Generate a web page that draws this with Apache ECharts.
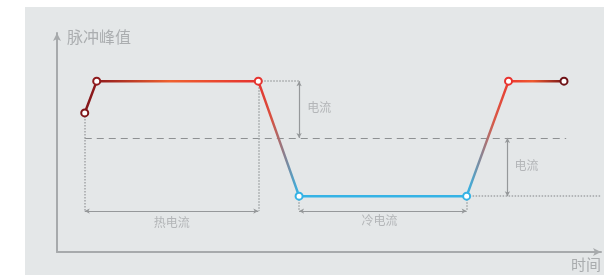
<!DOCTYPE html>
<html>
<head>
<meta charset="utf-8">
<script src="https://cdn.jsdelivr.net/npm/echarts@6/dist/echarts.min.js"></script>
<style>
  html, body { margin: 0; padding: 0; background: #ffffff; }
  #panel { position: absolute; left: 25px; top: 7px; width: 579px; height: 268px; background: #e4e7e8; }
  #chart { position: absolute; left: 0; top: 0; width: 604px; height: 275px; }
</style>
</head>
<body>
<div id="panel"></div>
<div id="chart"></div>
<script>
// pulse waveform: time (0-100) vs peak (0-10)
const times = [5.1, 7.3, 37, 44.5, 75.3, 83, 93.2];
const peaks = [6.35, 7.8, 7.8, 2.55, 2.55, 7.8, 7.8];
const pointColors = ['#7f1518', '#8e1a1c', '#e5332f', '#35b3e5', '#35b3e5', '#e8322e', '#6e1216'];

const dashedGuides = [
  [[5.1, 5.21], [93.6, 5.21]]
];
const dottedGuides = [
  [[5.1, 6.35], [5.1, 1.87]],
  [[37, 7.8], [37, 1.87]],
  [[37, 7.8], [44.5, 7.8]],
  [[44.5, 2.55], [44.5, 1.87]],
  [[75.3, 2.55], [75.3, 1.87]],
  [[75.3, 2.55], [100, 2.55]]
];
const arrowGuides = [
  [[5.1, 1.87], [37, 1.87]],
  [[44.5, 1.87], [75.3, 1.87]],
  [[44.5, 7.8], [44.5, 5.21]],
  [[82.8, 5.21], [82.8, 2.55]]
];
const noteNames = ['热电流', '冷电流', '电流', '电流'];
const notePos = [[21.1, 1.37], [59.3, 1.42], [48.2, 6.62], [86.3, 3.93]];

const font = '"Noto Sans CJK SC", "Noto Sans", sans-serif';
const toPairs = list => list.map(seg => [{ coord: seg[0] }, { coord: seg[1] }]);

const myChart = echarts.init(document.getElementById('chart'));
const option = {
  animation: false,
  grid: { left: 57, top: 33, right: 1, bottom: 23 },
  xAxis: {
    type: 'value',
    min: 0,
    max: 100,
    name: '时间',
    nameLocation: 'end',
    nameGap: 0,
    nameTextStyle: {
      color: '#a9acae', fontSize: 15, fontFamily: font,
      align: 'right', verticalAlign: 'top', padding: [5, 0, 0, 0]
    },
    axisLine: {
      show: true,
      symbol: ['none', 'arrow'],
      symbolSize: [6, 8],
      lineStyle: { color: '#a7aaac', width: 2 }
    },
    axisTick: { show: false },
    axisLabel: { show: false },
    splitLine: { show: false }
  },
  yAxis: {
    type: 'value',
    min: 0,
    max: 10,
    name: '脉冲峰值',
    nameLocation: 'end',
    nameGap: -4,
    nameTextStyle: {
      color: '#abaeb0', fontSize: 16, fontFamily: font,
      align: 'left', verticalAlign: 'middle', padding: [0, 0, 0, 10]
    },
    axisLine: {
      show: true,
      symbol: ['none', 'arrow'],
      symbolSize: [6, 8],
      lineStyle: { color: '#a7aaac', width: 2 }
    },
    axisTick: { show: false },
    axisLabel: { show: false },
    splitLine: { show: false }
  },
  series: [
    {
      type: 'line',
      data: [],
      silent: true,
      markLine: {
        silent: true,
        symbol: 'none',
        label: { show: false },
        lineStyle: { color: '#8e9193', width: 1.2, type: [7, 5] },
        data: toPairs(dashedGuides)
      }
    },
    {
      type: 'line',
      data: [],
      silent: true,
      markLine: {
        silent: true,
        symbol: 'none',
        label: { show: false },
        lineStyle: { color: '#a2a5a7', width: 1.5, type: 'dotted' },
        data: toPairs(dottedGuides)
      }
    },
    {
      type: 'line',
      data: [],
      silent: true,
      markLine: {
        silent: true,
        symbol: ['arrow', 'arrow'],
        symbolSize: [4, 5],
        label: { show: false },
        lineStyle: { color: '#95989a', width: 1.2, type: 'solid' },
        data: toPairs(arrowGuides)
      }
    },
    {
      type: 'scatter',
      symbolSize: 0,
      silent: true,
      label: {
        show: true,
        position: 'inside',
        formatter: p => p.name,
        color: '#a6a9ab',
        fontSize: 12,
        fontFamily: font
      },
      data: notePos.map((v, i) => ({ name: noteNames[i], value: v }))
    },
    {
      type: 'line',
      z: 5,
      symbol: 'circle',
      symbolSize: 7,
      showSymbol: true,
      lineStyle: {
        width: 2.5,
        color: new echarts.graphic.LinearGradient(0, 0, 1, 0, [
          { offset: 0, color: '#7f1518' },
          { offset: 0.03, color: '#901b1d' },
          { offset: 0.18, color: '#ef612f' },
          { offset: 0.362, color: '#e5332f' },
          { offset: 0.39, color: '#d9503f' },
          { offset: 0.447, color: '#35b3e5' },
          { offset: 0.796, color: '#35b3e5' },
          { offset: 0.85, color: '#d85a48' },
          { offset: 0.884, color: '#ec3a2e' },
          { offset: 0.93, color: '#ef5a30' },
          { offset: 1, color: '#6e1216' }
        ])
      },
      data: times.map((t, i) => ({
        value: [t, peaks[i]],
        itemStyle: { color: '#ffffff', borderColor: pointColors[i], borderWidth: 2 }
      }))
    }
  ]
};
option && myChart.setOption(option);
</script>
</body>
</html>
